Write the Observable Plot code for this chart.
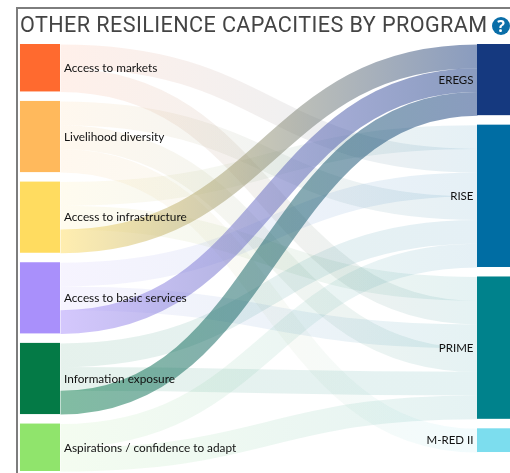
<!DOCTYPE html>
<html>
<head>
<meta charset="utf-8">
<script src="https://cdn.jsdelivr.net/npm/d3@7"></script>
<script src="https://cdn.jsdelivr.net/npm/@observablehq/plot@0.6"></script>
<style>
html,body{margin:0;padding:0;background:#fff;overflow:hidden}
#wrap{position:relative;width:510px;height:473px;overflow:hidden;filter:blur(.35px)}
#frame{position:absolute;left:16px;top:7px;right:-5px;bottom:-5px;border-left:2px solid #7d7d7d;border-top:2px solid #7d7d7d}
#title{position:absolute;left:20px;top:12px;font:400 21.6px Roboto,sans-serif;color:#444;white-space:nowrap;letter-spacing:.41px}
#help{position:absolute;left:492px;top:17px;width:18px;height:18px;border-radius:50%;background:#0a6ea8;color:#fff;font:700 16px/18px "Open Sans",sans-serif;text-align:center}
svg{position:absolute;left:0;top:0}
</style>
</head>
<body>
<div id="wrap">
<div id="title">OTHER RESILIENCE CAPACITIES BY PROGRAM</div>
<div id="help">?</div>
<div id="frame"></div>
</div>
<script>
const capacities = ["Access to markets","Livelihood diversity","Access to infrastructure","Access to basic services","Information exposure","Aspirations / confidence to adapt"];
const capacityColors = ["#ff6a2f","#ffb95c","#ffdc60","#a990fb","#047a46","#90e46c"];
const programs = ["EREGS","RISE","PRIME","M-RED II"];
const programColors = ["#15397f","#006da3","#00828c","#7cddee"];
// Each flow is one unit; listed in the order the ribbons leave each capacity, top to bottom.
const flowCapacity = [
  "Access to markets","Access to markets",
  "Livelihood diversity","Livelihood diversity","Livelihood diversity",
  "Access to infrastructure","Access to infrastructure","Access to infrastructure",
  "Access to basic services","Access to basic services","Access to basic services",
  "Information exposure","Information exposure","Information exposure",
  "Aspirations / confidence to adapt","Aspirations / confidence to adapt"];
const flowProgram = [
  "RISE","PRIME",
  "RISE","PRIME","M-RED II",
  "RISE","PRIME","EREGS",
  "RISE","PRIME","EREGS",
  "RISE","PRIME","EREGS",
  "RISE","PRIME"];
// Order in which ribbons arrive at each program, top to bottom.
const arrivalOrder = ["Access to infrastructure","Access to markets","Access to basic services","Livelihood diversity","Information exposure","Aspirations / confidence to adapt"];
const gapUnits = 0.4;

const flows = flowCapacity.map((c,i)=>({capacity:c,program:flowProgram[i],value:1}));
function stackNodes(names,key,colors){
  let y=0;
  return names.map((name,i)=>{
    const value=d3.sum(flows.filter(f=>f[key]===name),f=>f.value);
    const n={name,color:colors[i],y0:y,y1:y+value};
    y+=value+gapUnits;
    return n;
  });
}
const left = stackNodes(capacities,"capacity",capacityColors);
const right = stackNodes(programs,"program",programColors);
for(const n of left){
  let y=n.y0;
  for(const f of flows.filter(f=>f.capacity===n.name)){f.ys=y+f.value/2;y+=f.value;}
}
for(const n of right){
  let y=n.y0;
  const inn=flows.filter(f=>f.program===n.name).sort((a,b)=>arrivalOrder.indexOf(a.capacity)-arrivalOrder.indexOf(b.capacity));
  for(const f of inn){f.yt=y+f.value/2;y+=f.value;}
}
const colorOf=n=>[...left,...right].find(d=>d.name===n).color;
const unitPx = 427/18;
const linkMarks = flows.map((f,i)=>Plot.link([f],{
  x1:()=>0,x2:()=>1,y1:"ys",y2:"yt",
  curve:"bump-x",
  stroke:`url(#flow${i})`,
  strokeWidth:unitPx,
  strokeOpacity:f.program==="EREGS"?0.5:0.1,
  strokeLinecap:"butt"
}));
const plot = Plot.plot({
  width:510,height:473,
  margin:0,
  x:{domain:[0,1],range:[60,477],axis:null},
  y:{domain:[0,18],range:[44,471],axis:null},
  marks:[
    ...linkMarks,
    Plot.rect(left,{x1:()=>-0.096,x2:()=>0,y1:"y0",y2:"y1",fill:d=>d.color}),
    Plot.rect(right,{x1:()=>1,x2:()=>1.08,y1:"y0",y2:"y1",fill:d=>d.color}),
    Plot.text(left,{x:()=>0,y:d=>(d.y0+d.y1)/2,text:"name",textAnchor:"start",dx:3.5,fontSize:11.8,fontFamily:"Lato",fill:"#111"}),
    Plot.text(right,{x:()=>1,y:d=>(d.y0+d.y1)/2,text:"name",textAnchor:"end",dx:-4,fontSize:11.5,fontFamily:"Lato",fill:"#111"})
  ]
});
const xs=plot.scale("x");
const defs=d3.select(plot).insert("defs",":first-child");
flows.forEach((f,i)=>{
  const g=defs.append("linearGradient").attr("id",`flow${i}`).attr("gradientUnits","userSpaceOnUse")
    .attr("x1",xs.apply(0)).attr("x2",xs.apply(1)).attr("y1",0).attr("y2",0);
  g.append("stop").attr("offset","0%").attr("stop-color",colorOf(f.capacity));
  g.append("stop").attr("offset","100%").attr("stop-color",colorOf(f.program));
});
document.getElementById("wrap").prepend(plot);
</script>
</body>
</html>
